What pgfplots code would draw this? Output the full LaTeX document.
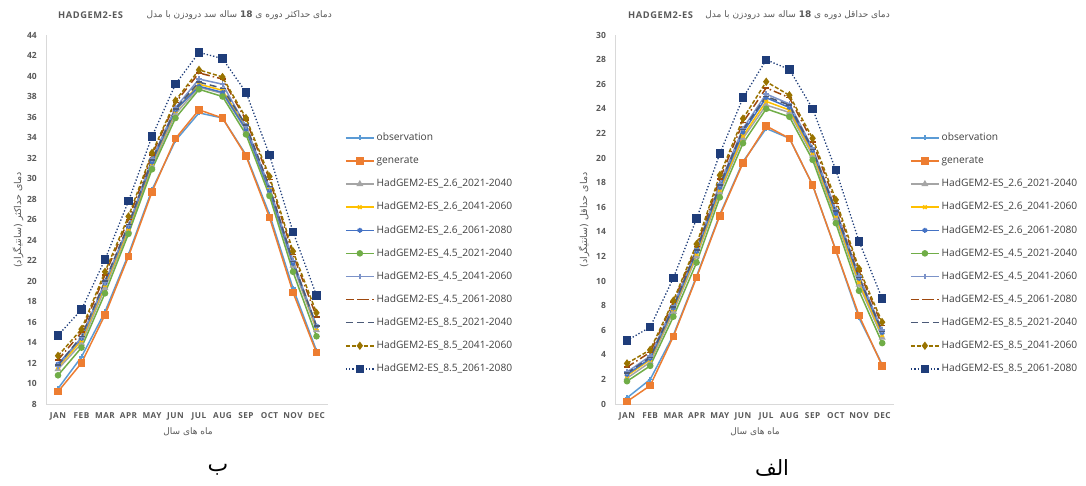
\documentclass[border=0pt]{standalone}
\usepackage{pgfplots}
\usepackage{pgfplotstable}
\pgfplotsset{compat=1.18}
\usepackage{fontspec}
\setmainfont{Open Sans}
\newfontfamily\tickfont[LetterSpace=6]{Open Sans}
\newfontfamily\arabicfont[Script=Arabic]{DejaVu Sans}
\TeXXeTstate=1

\definecolor{cobs}{HTML}{5B9BD5}
\definecolor{cgen}{HTML}{ED7D31}
\definecolor{cgray}{HTML}{A5A5A5}
\definecolor{cgold}{HTML}{FFC000}
\definecolor{cblue}{HTML}{4472C4}
\definecolor{cgreen}{HTML}{70AD47}
\definecolor{cblue2}{HTML}{7B92C8}
\definecolor{cbrown}{HTML}{9E480E}
\definecolor{cslate}{HTML}{4B5A78}
\definecolor{cdgold}{HTML}{997300}
\definecolor{cnavy}{HTML}{1F3D7A}
\definecolor{txt}{HTML}{595959}

% max temperature (left panel, ب)
\pgfplotstableread{
m obs gen a b c d e f g h k
0  9.5  9.2 11.4 11.6 11.9 10.8 11.7 12.3 11.8 12.7 14.7
1 12.6 12.0 13.9 14.2 14.4 13.5 14.5 15.0 14.6 15.3 17.2
2 17.0 16.7 19.3 19.6 19.8 18.8 19.9 20.6 20.0 20.9 22.1
3 22.6 22.4 24.9 25.1 25.3 24.6 25.4 26.0 25.5 26.3 27.8
4 28.9 28.7 31.2 31.5 31.6 30.9 31.9 32.3 31.8 32.5 34.1
5 33.7 33.9 36.3 36.6 36.7 35.9 36.9 37.4 36.8 37.6 39.2
6 36.4 36.7 38.9 39.2 39.0 38.7 39.7 40.3 39.4 40.6 42.3
7 35.9 35.9 38.3 38.6 38.4 38.0 39.2 39.7 38.8 39.9 41.7
8 32.3 32.2 34.7 35.0 34.8 34.3 35.1 35.7 35.2 35.9 38.4
9 26.5 26.2 28.6 28.9 28.8 28.3 29.1 29.9 29.2 30.2 32.3
10 19.3 18.9 21.5 21.8 21.7 20.9 22.0 22.6 21.9 22.9 24.8
11 13.2 13.0 15.2 15.4 15.6 14.6 15.6 16.5 15.6 16.9 18.6
}\tmax

% min temperature (right panel, الف)
\pgfplotstableread{
m obs gen a b c d e f g h k
0  0.5  0.2  2.1  2.3  2.4  1.85  2.6  3.0  2.5  3.3  5.16
1  2.0  1.5  3.4  3.6  3.7  3.1   3.9  4.2  3.8  4.4  6.25
2  5.6  5.5  7.5  7.7  7.8  7.1   8.0  8.3  7.9  8.4 10.25
3 10.4 10.3 12.0 12.2 12.4 11.5  12.6 12.8 12.5 13.0 15.07
4 15.4 15.3 17.2 17.4 17.6 16.8  17.9 18.3 17.8 18.6 20.35
5 19.7 19.6 21.6 21.8 22.1 21.2  22.4 22.9 22.3 23.2 24.9
6 22.4 22.6 24.3 24.6 24.9 24.0  25.2 25.7 25.0 26.2 27.98
7 21.6 21.6 23.7 23.9 24.1 23.35 24.4 24.9 24.3 25.1 27.2
8 17.8 17.8 20.2 20.4 20.6 19.85 20.8 21.3 20.7 21.6 24.0
9 12.5 12.5 15.1 15.3 15.5 14.7  15.8 16.3 15.7 16.6 19.03
10 7.0  7.2  9.7  9.9 10.2  9.2  10.4 10.8 10.3 11.0 13.23
11 3.2  3.1  5.4  5.6  5.8  4.95  6.0  6.4  5.9  6.65 8.56
}\tmin

\pgfplotsset{
  panel/.style={
    scale only axis, height=369pt,
    xmin=-0.5, xmax=11.5,
    axis x line*=bottom, axis y line*=left,
    axis line style={draw=black!15, line width=0.8pt, -},
    major tick length=0pt,
    xtick={0,...,11},
    xticklabels={JAN,FEB,MAR,APR,MAY,JUN,JUL,AUG,SEP,OCT,NOV,DEC},
    x tick label style={font=\tickfont\fontsize{8.2}{9}\selectfont\bfseries, text=txt, yshift=-5pt},
    y tick label style={font=\fontsize{8.5}{9}\selectfont\bfseries, text=txt, xshift=-6pt},
    /pgf/number format/assume math mode=true,
    legend style={draw=none, fill=none, inner sep=0pt, anchor=north west,
      font=\fontsize{10.2}{11}\selectfont, text=black!75,
      nodes={inner sep=0pt, text height=8pt, text depth=2.5pt},
      row sep=12.6pt, cells={anchor=west},
      /tikz/every odd column/.append style={column sep=2pt}},
    legend cell align=left,
    legend image code/.code={
      \draw[mark repeat=2,mark phase=2] plot coordinates {(0pt,0pt) (14pt,0pt) (28pt,0pt)};},
    every axis plot/.append style={line width=1.5pt},
  },
  sobs/.style={cobs, mark=+, mark size=2.5pt},
  sgen/.style={cgen, mark=square*, mark size=3pt},
  sa/.style={cgray, mark=triangle*, mark size=2.6pt},
  sb/.style={cgold, mark=x, mark size=2.5pt},
  sc/.style={cblue, mark=asterisk, mark size=2.5pt},
  sd/.style={cgreen, mark=*, mark size=2.5pt},
  se/.style={cblue2, mark=+, mark size=2.8pt},
  sf/.style={cbrown, dash pattern=on 8pt off 3pt on 1.5pt off 3pt, mark=-, mark size=3pt, mark options={solid}},
  sg/.style={cslate, dash pattern=on 7pt off 4pt, mark=-, mark size=3pt, mark options={solid}},
  sh/.style={cdgold, dash pattern=on 4pt off 2pt, mark=diamond*, mark size=3pt, mark options={solid}},
  sk/.style={cnavy, line width=1.3pt, dash pattern=on 1.3pt off 2pt, mark=square*, mark size=3.6pt, mark options={solid}},
}

\begin{document}
\begin{tikzpicture}
\path[use as bounding box] (0,0) rectangle (1086pt,486pt);

% ---------- left panel: max temperature ----------
\begin{axis}[panel, at={(46.25pt,82pt)}, anchor=south west, width=282pt,
  ymin=8, ymax=44, ytick={8,10,...,44},
  legend style={at={(1.059,0.736)}}]
\addplot[sobs] table[x=m,y=obs] {\tmax};
\addplot[sgen] table[x=m,y=gen] {\tmax};
\addplot[sa] table[x=m,y=a] {\tmax};
\addplot[sb] table[x=m,y=b] {\tmax};
\addplot[sc] table[x=m,y=c] {\tmax};
\addplot[sd] table[x=m,y=d] {\tmax};
\addplot[se] table[x=m,y=e] {\tmax};
\addplot[sf] table[x=m,y=f] {\tmax};
\addplot[sg] table[x=m,y=g] {\tmax};
\addplot[sh] table[x=m,y=h] {\tmax};
\addplot[sk] table[x=m,y=k] {\tmax};
\legend{observation,generate,HadGEM2-ES\_2.6\_2021-2040,HadGEM2-ES\_2.6\_2041-2060,HadGEM2-ES\_2.6\_2061-2080,HadGEM2-ES\_4.5\_2021-2040,HadGEM2-ES\_4.5\_2041-2060,HadGEM2-ES\_4.5\_2061-2080,HadGEM2-ES\_8.5\_2021-2040,HadGEM2-ES\_8.5\_2041-2060,HadGEM2-ES\_8.5\_2061-2080}
\end{axis}

% ---------- right panel: min temperature ----------
\begin{axis}[panel, at={(615.4pt,82pt)}, anchor=south west, width=278.4pt,
  ymin=0, ymax=30, ytick={0,2,...,30},
  legend style={at={(1.058,0.736)}}]
\addplot[sobs] table[x=m,y=obs] {\tmin};
\addplot[sgen] table[x=m,y=gen] {\tmin};
\addplot[sa] table[x=m,y=a] {\tmin};
\addplot[sb] table[x=m,y=b] {\tmin};
\addplot[sc] table[x=m,y=c] {\tmin};
\addplot[sd] table[x=m,y=d] {\tmin};
\addplot[se] table[x=m,y=e] {\tmin};
\addplot[sf] table[x=m,y=f] {\tmin};
\addplot[sg] table[x=m,y=g] {\tmin};
\addplot[sh] table[x=m,y=h] {\tmin};
\addplot[sk] table[x=m,y=k] {\tmin};
\legend{observation,generate,HadGEM2-ES\_2.6\_2021-2040,HadGEM2-ES\_2.6\_2041-2060,HadGEM2-ES\_2.6\_2061-2080,HadGEM2-ES\_4.5\_2021-2040,HadGEM2-ES\_4.5\_2041-2060,HadGEM2-ES\_4.5\_2061-2080,HadGEM2-ES\_8.5\_2021-2040,HadGEM2-ES\_8.5\_2041-2060,HadGEM2-ES\_8.5\_2061-2080}
\end{axis}

% titles
\node[anchor=west, inner sep=0pt, text=txt, font=\tickfont\fontsize{9.3}{10}\selectfont\bfseries] at (58pt,471pt) {HADGEM2-ES};
\node[anchor=east, inner sep=0pt, text=txt, font=\fontsize{9}{10}\selectfont] at (332pt,471pt) {\arabicfont\beginR دمای حداکثر دوره ی \textbf{18} ساله سد درودزن با مدل\endR};
\node[anchor=west, inner sep=0pt, text=txt, font=\tickfont\fontsize{9.3}{10}\selectfont\bfseries] at (628pt,471pt) {HADGEM2-ES};
\node[anchor=east, inner sep=0pt, text=txt, font=\fontsize{9}{10}\selectfont] at (890pt,471pt) {\arabicfont\beginR دمای حداقل دوره ی \textbf{18} ساله سد درودزن با مدل\endR};

% axis labels
\node[rotate=90, text=txt, font=\fontsize{9.5}{11}\selectfont] at (18pt,266pt) {\arabicfont\beginR دمای حداکثر (سانتیگراد)\endR};
\node[rotate=90, text=txt, font=\fontsize{9.5}{11}\selectfont] at (584pt,266pt) {\arabicfont\beginR دمای حداقل (سانتیگراد)\endR};
\node[text=txt, font=\fontsize{9}{10}\selectfont] at (188pt,54pt) {\arabicfont\beginR ماه های سال\endR};
\node[text=txt, font=\fontsize{9}{10}\selectfont] at (755pt,54pt) {\arabicfont\beginR ماه های سال\endR};

% panel letters
\node[font=\fontsize{22}{24}\selectfont] at (218pt,16pt) {\arabicfont\beginR ب\endR};
\node[font=\fontsize{21}{24}\selectfont] at (772pt,18pt) {\arabicfont\beginR الف\endR};
\end{tikzpicture}
\end{document}
